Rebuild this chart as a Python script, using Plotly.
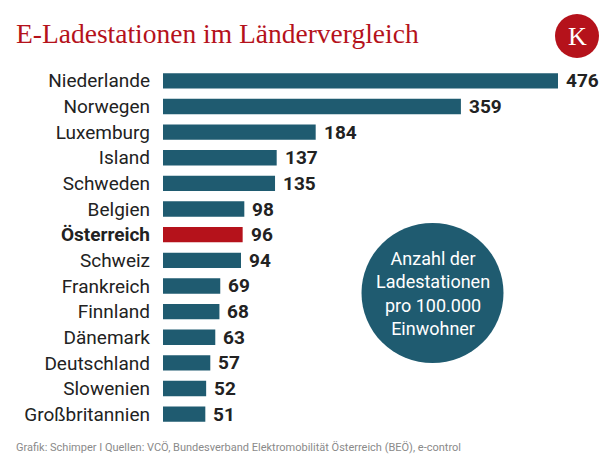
import plotly.graph_objects as go

countries = ["Niederlande", "Norwegen", "Luxemburg", "Island", "Schweden", "Belgien",
             "Österreich", "Schweiz", "Frankreich", "Finnland", "Dänemark",
             "Deutschland", "Slowenien", "Großbritannien"]
values = [476, 359, 184, 137, 135, 98, 96, 94, 69, 68, 63, 57, 52, 51]
highlight = "Österreich"

TEAL = "#1f5b70"
RED = "#b5121b"

colors = [RED if c == highlight else TEAL for c in countries]
ticktext = [f"<b>{c}</b>" if c == highlight else c for c in countries]

W, H = 616, 472
L, R = 163, 16
T, B = 68, 45
plot_w = W - L - R
xmax = 476 * plot_w / 395

fig = go.Figure()
fig.add_trace(go.Bar(
    x=values, y=countries, orientation="h",
    marker=dict(color=colors, line=dict(width=0)),
    width=0.6,
    hoverinfo="skip",
))

for c, v in zip(countries, values):
    fig.add_annotation(
        x=v, y=c, xref="x", yref="y", text=f"<b>{v}</b>",
        xanchor="left", yanchor="middle", xshift=6, showarrow=False,
        font=dict(family="Roboto", size=19, color="#222222"),
    )

fig.update_layout(
    width=W, height=H,
    margin=dict(l=L, r=R, t=T, b=B),
    paper_bgcolor="white", plot_bgcolor="white",
    showlegend=False,
    xaxis=dict(range=[0, xmax], visible=False, fixedrange=True),
    yaxis=dict(
        autorange=False, range=[13.5, -0.5],
        tickmode="array", tickvals=countries, ticktext=ticktext,
        tickfont=dict(family="Roboto", size=19, color="#222222"),
        ticks="", showline=False, showgrid=False, zeroline=False,
        ticklabelstandoff=12,
    ),
    font=dict(family="Roboto"),
)

# Title
fig.add_annotation(
    text="E-Ladestationen im Ländervergleich",
    xref="paper", yref="paper", x=-L / plot_w + 14 / plot_w, y=1,
    xanchor="left", yanchor="bottom", yshift=17,
    showarrow=False,
    font=dict(family="Liberation Serif", size=27.5, color=RED),
)

# Logo
logo_y = 1 + (T - 36) / (H - T - B)
fig.add_shape(type="circle", xref="paper", yref="paper",
              xsizemode="pixel", ysizemode="pixel",
              xanchor=(577 - L) / plot_w, yanchor=logo_y,
              x0=-22, x1=22, y0=-22, y1=22,
              fillcolor=RED, line=dict(width=0), layer="above")
fig.add_annotation(
    text="K", xref="paper", yref="paper",
    x=(577 - L) / plot_w, y=logo_y,
    xanchor="center", yanchor="middle", showarrow=False,
    font=dict(family="Liberation Serif", size=26, color="white"),
)

# Info circle
cx = (432.5 - L) / plot_w
cy = (H - B - 293) / (H - T - B)
fig.add_shape(type="circle", xref="paper", yref="paper",
              xsizemode="pixel", ysizemode="pixel",
              xanchor=cx, yanchor=cy,
              x0=-71, x1=71, y0=-70, y1=70,
              fillcolor=TEAL, line=dict(width=0), layer="above")
fig.add_annotation(
    text="Anzahl der<br>Ladestationen<br>pro 100.000<br>Einwohner",
    xref="paper", yref="paper", x=cx, y=cy,
    xanchor="center", yanchor="middle", showarrow=False,
    align="center",
    font=dict(family="Roboto", size=18, color="white"),
)

# Footer
fig.add_annotation(
    text="Grafik: Schimper I Quellen: VCÖ, Bundesverband Elektromobilität Österreich (BEÖ), e-control",
    xref="paper", yref="paper", x=-L / plot_w + 14 / plot_w, y=0,
    xanchor="left", yanchor="top", yshift=-12,
    showarrow=False,
    font=dict(family="Roboto", size=11, color="#8a8a8a"),
)

fig.write_html("out.html")
